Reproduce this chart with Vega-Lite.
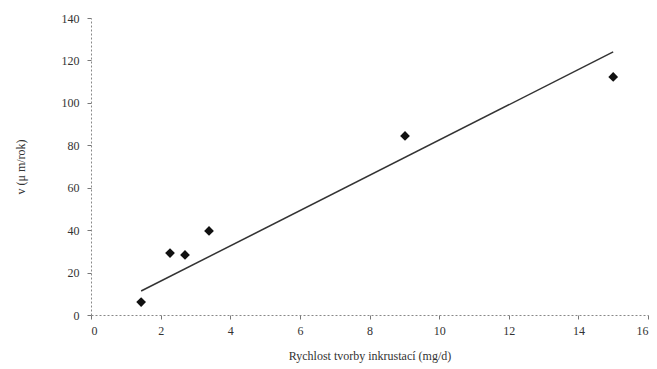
{
  "$schema": "https://vega.github.io/schema/vega-lite/v6.json",
  "width": 557,
  "height": 297,
  "autosize": "none",
  "padding": {"left": 91, "top": 18, "right": 9, "bottom": 54},
  "background": "white",
  "config": {
    "view": {"stroke": null},
    "axis": {
      "labelFont": "Liberation Serif",
      "titleFont": "Liberation Serif",
      "labelFontSize": 12,
      "titleFontSize": 12,
      "titleFontWeight": "normal",
      "labelColor": "#333",
      "titleColor": "#333",
      "domainColor": "#888",
      "domainDash": [2, 2],
      "domainWidth": 1,
      "tickColor": "#777",
      "tickSize": 4,
      "grid": false
    }
  },
  "datasets": {
    "pts": [
      {"x": 1.44, "y": 6.1},
      {"x": 2.27, "y": 29.2},
      {"x": 2.7, "y": 28.3},
      {"x": 3.39, "y": 39.6},
      {"x": 9.02, "y": 84.4},
      {"x": 15.0, "y": 112.2}
    ],
    "fit": [
      {"x": 1.44, "y": 11.3},
      {"x": 15.0, "y": 124}
    ]
  },
  "layer": [
    {
      "data": {"name": "fit"},
      "mark": {"type": "line", "color": "#333", "strokeWidth": 1.5},
      "encoding": {
        "x": {"field": "x", "type": "quantitative", "scale": {"domain": [0, 16]},
          "axis": {"values": [0,2,4,6,8,10,12,14,16], "title": "Rychlost tvorby inkrustací (mg/d)", "titlePadding": 14, "labelPadding": 6}},
        "y": {"field": "y", "type": "quantitative", "scale": {"domain": [0, 140]},
          "axis": {"values": [0,20,40,60,80,100,120,140], "title": "v (μ m/rok)", "titlePadding": 34, "labelPadding": 8}}
      }
    },
    {
      "data": {"name": "pts"},
      "mark": {"type": "point", "shape": "diamond", "filled": true, "color": "#111", "size": 95, "opacity": 1},
      "encoding": {
        "x": {"field": "x", "type": "quantitative"},
        "y": {"field": "y", "type": "quantitative"}
      }
    }
  ]
}
